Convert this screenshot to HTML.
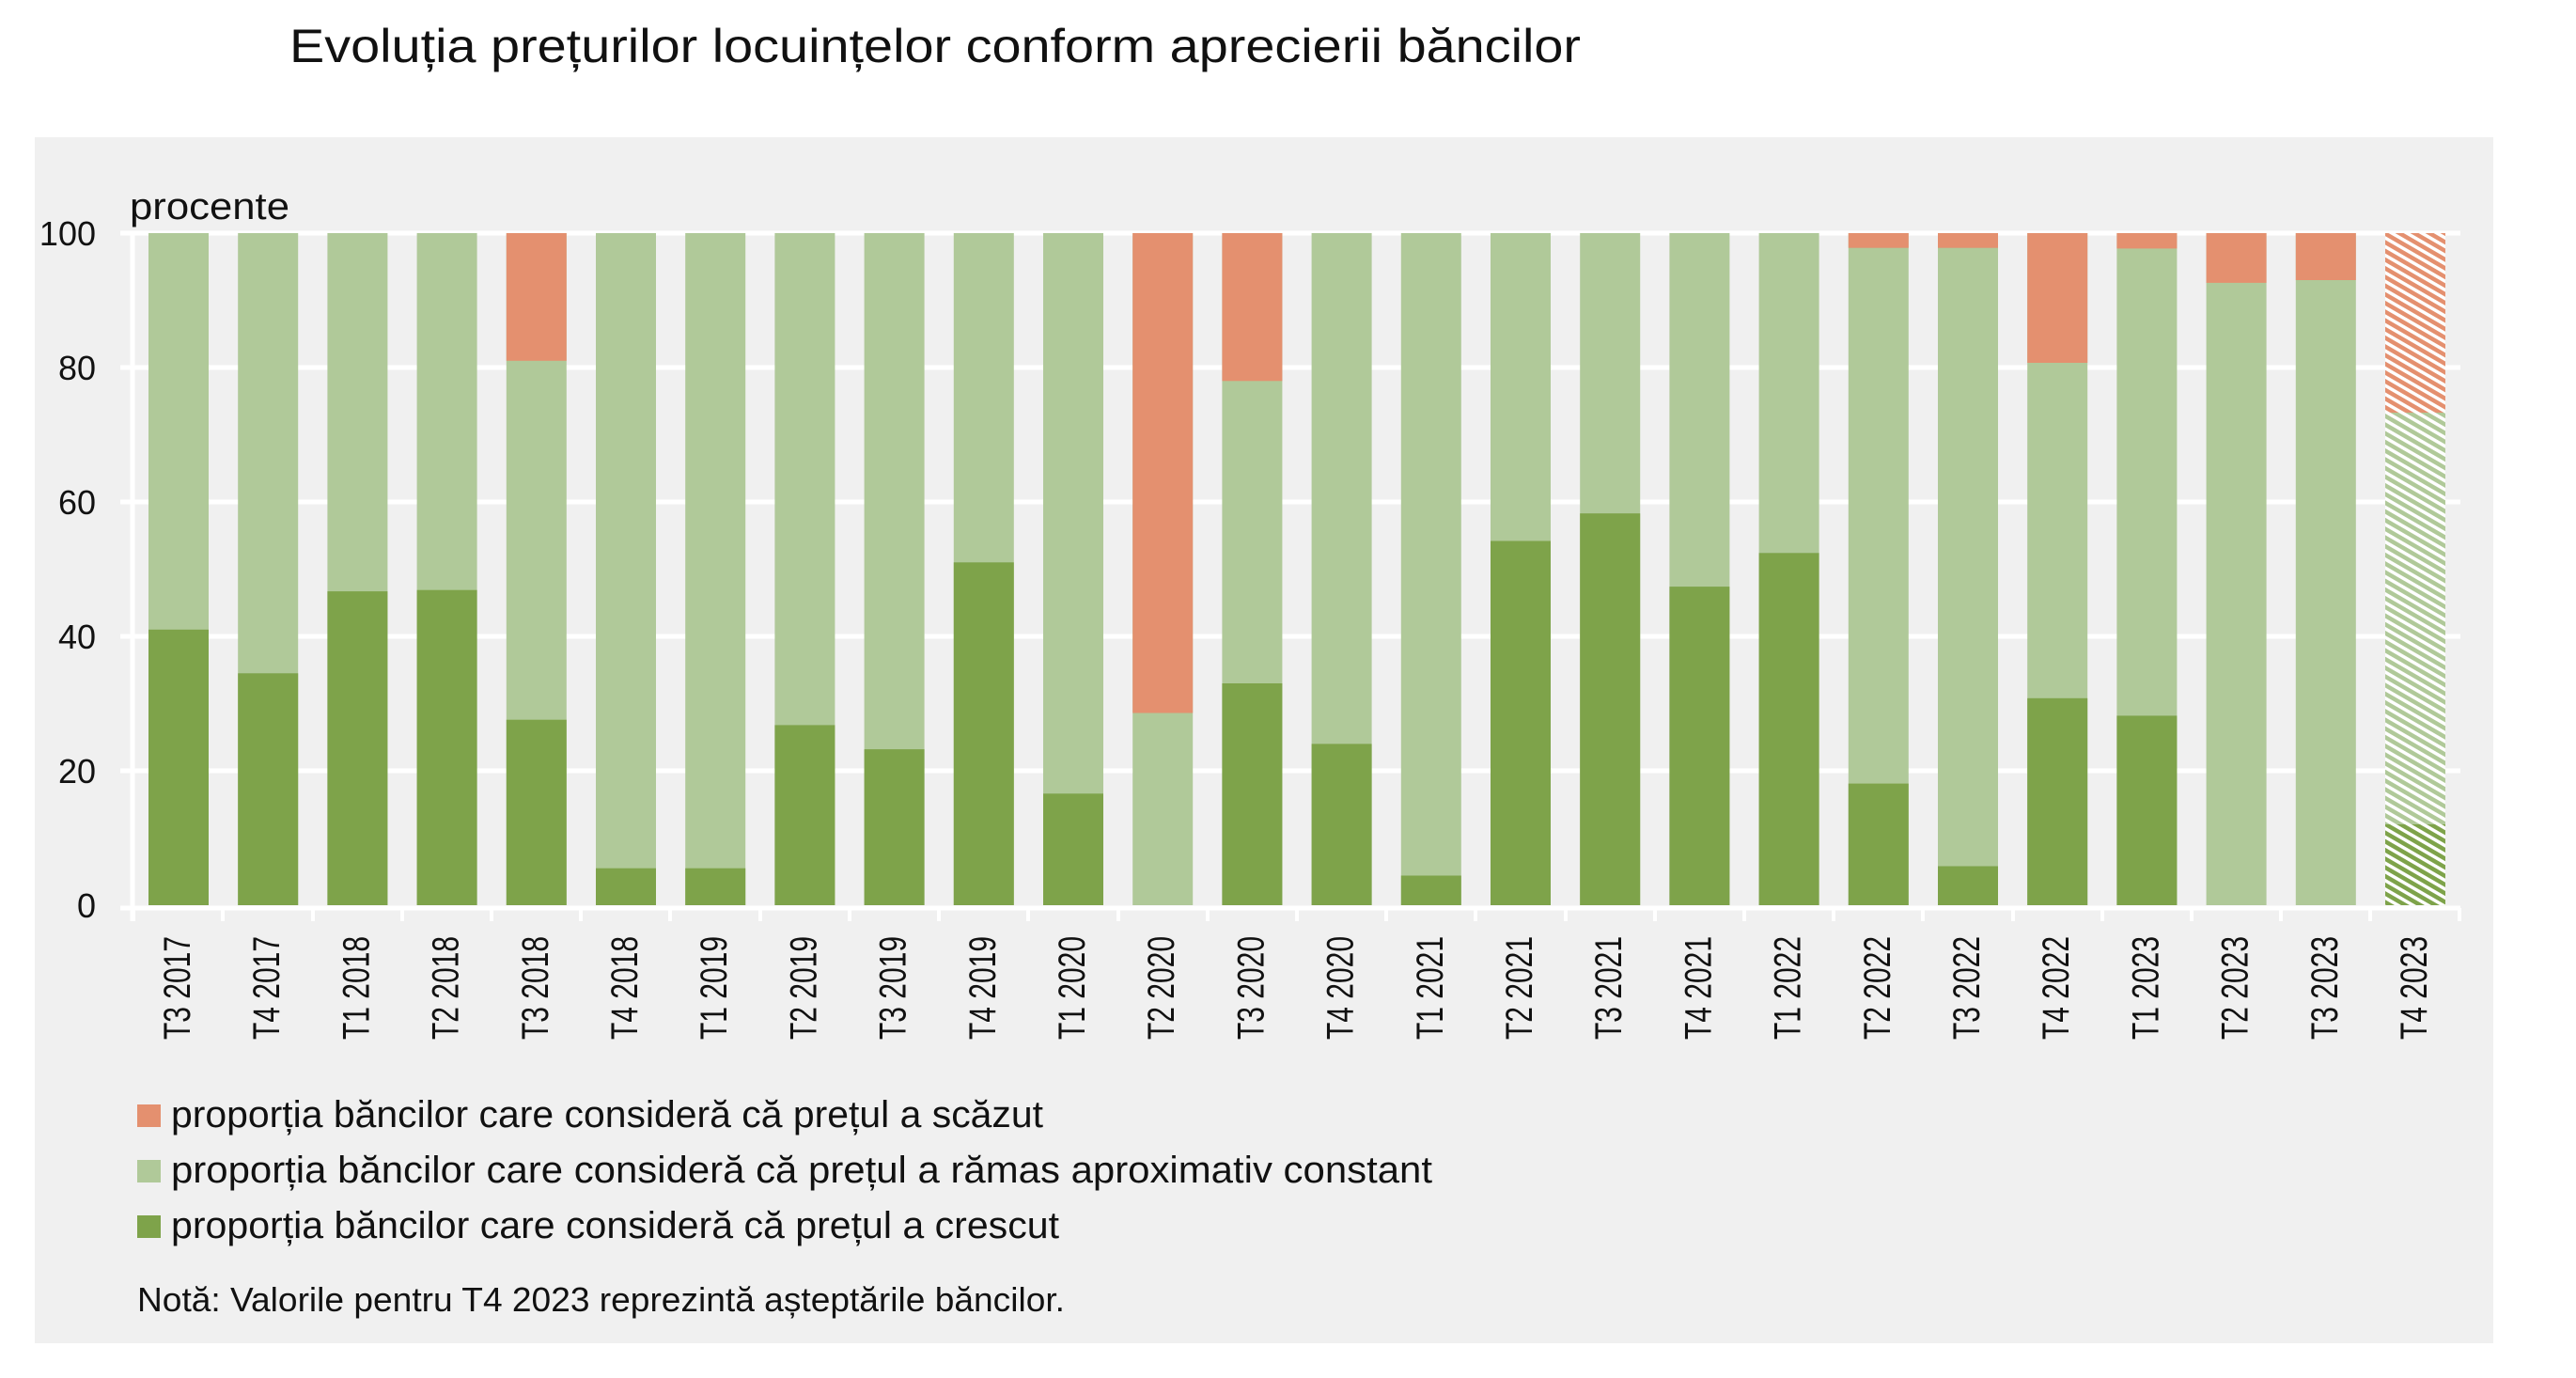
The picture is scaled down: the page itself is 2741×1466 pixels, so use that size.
<!DOCTYPE html>
<html><head><meta charset="utf-8"><style>
html,body{margin:0;padding:0;background:#fff;}
svg{display:block;}
text{font-family:"Liberation Sans",sans-serif;fill:#111;}
</style></head><body>
<svg width="2741" height="1466" viewBox="0 0 2741 1466" xmlns="http://www.w3.org/2000/svg">
<defs>
<pattern id="hr" width="8" height="8" patternUnits="userSpaceOnUse" patternTransform="rotate(30)"><rect width="8" height="8" fill="#fff"/><rect width="8" height="4.5" fill="#e4906f"/></pattern>
<pattern id="hl" width="8" height="8" patternUnits="userSpaceOnUse" patternTransform="rotate(30)"><rect width="8" height="8" fill="#fff"/><rect width="8" height="4.5" fill="#b0c999"/></pattern>
<pattern id="hd" width="8" height="8" patternUnits="userSpaceOnUse" patternTransform="rotate(30)"><rect width="8" height="8" fill="#fff"/><rect width="8" height="4.5" fill="#7ea34a"/></pattern>
</defs>
<rect width="2741" height="1466" fill="#fff"/>
<text x="308" y="66" font-size="50" textLength="1374" lengthAdjust="spacingAndGlyphs">Evoluția prețurilor locuințelor conform aprecierii băncilor</text>
<rect x="37" y="146" width="2616" height="1283" fill="#f0f0f0"/>
<text x="138" y="233" font-size="40" fill="#333" textLength="170" lengthAdjust="spacingAndGlyphs">procente</text>
<g stroke="#fff" stroke-width="5">
<line x1="128" y1="248" x2="2618" y2="248"/><line x1="128" y1="391" x2="2618" y2="391"/><line x1="128" y1="534" x2="2618" y2="534"/><line x1="128" y1="677" x2="2618" y2="677"/><line x1="128" y1="820" x2="2618" y2="820"/><line x1="128" y1="966" x2="2618" y2="966"/>
<line x1="141" y1="248" x2="141" y2="980"/>
</g>
<g stroke="#fff" stroke-width="4">
<line x1="142" y1="966" x2="142" y2="980"/><line x1="237" y1="966" x2="237" y2="980"/><line x1="333" y1="966" x2="333" y2="980"/><line x1="428" y1="966" x2="428" y2="980"/><line x1="523" y1="966" x2="523" y2="980"/><line x1="618" y1="966" x2="618" y2="980"/><line x1="713" y1="966" x2="713" y2="980"/><line x1="809" y1="966" x2="809" y2="980"/><line x1="904" y1="966" x2="904" y2="980"/><line x1="999" y1="966" x2="999" y2="980"/><line x1="1094" y1="966" x2="1094" y2="980"/><line x1="1190" y1="966" x2="1190" y2="980"/><line x1="1285" y1="966" x2="1285" y2="980"/><line x1="1380" y1="966" x2="1380" y2="980"/><line x1="1475" y1="966" x2="1475" y2="980"/><line x1="1570" y1="966" x2="1570" y2="980"/><line x1="1666" y1="966" x2="1666" y2="980"/><line x1="1761" y1="966" x2="1761" y2="980"/><line x1="1856" y1="966" x2="1856" y2="980"/><line x1="1951" y1="966" x2="1951" y2="980"/><line x1="2046" y1="966" x2="2046" y2="980"/><line x1="2142" y1="966" x2="2142" y2="980"/><line x1="2237" y1="966" x2="2237" y2="980"/><line x1="2332" y1="966" x2="2332" y2="980"/><line x1="2427" y1="966" x2="2427" y2="980"/><line x1="2522" y1="966" x2="2522" y2="980"/><line x1="2617" y1="966" x2="2617" y2="980"/>
</g>
<g font-size="36" text-anchor="end">
<text x="102" y="261">100</text><text x="102" y="404">80</text><text x="102" y="547">60</text><text x="102" y="690">40</text><text x="102" y="833">20</text><text x="102" y="976">0</text>
</g>
<g fill="#b0c999">
<rect x="158" y="248" width="64" height="715"/><rect x="253.2" y="248" width="64" height="715"/><rect x="348.4" y="248" width="64" height="715"/><rect x="443.6" y="248" width="64" height="715"/><rect x="538.8" y="248" width="64" height="715"/><rect x="634" y="248" width="64" height="715"/><rect x="729.2" y="248" width="64" height="715"/><rect x="824.4" y="248" width="64" height="715"/><rect x="919.6" y="248" width="64" height="715"/><rect x="1014.8" y="248" width="64" height="715"/><rect x="1110" y="248" width="64" height="715"/><rect x="1205.2" y="248" width="64" height="715"/><rect x="1300.4" y="248" width="64" height="715"/><rect x="1395.6" y="248" width="64" height="715"/><rect x="1490.8" y="248" width="64" height="715"/><rect x="1586" y="248" width="64" height="715"/><rect x="1681.2" y="248" width="64" height="715"/><rect x="1776.4" y="248" width="64" height="715"/><rect x="1871.6" y="248" width="64" height="715"/><rect x="1966.8" y="248" width="64" height="715"/><rect x="2062" y="248" width="64" height="715"/><rect x="2157.2" y="248" width="64" height="715"/><rect x="2252.4" y="248" width="64" height="715"/><rect x="2347.6" y="248" width="64" height="715"/><rect x="2442.8" y="248" width="64" height="715"/>
</g>
<g fill="#e4906f">
<rect x="538.8" y="248" width="64" height="135.8"/><rect x="1205.2" y="248" width="64" height="510.5"/><rect x="1300.4" y="248" width="64" height="157.3"/><rect x="1966.8" y="248" width="64" height="15.7"/><rect x="2062" y="248" width="64" height="15.7"/><rect x="2157.2" y="248" width="64" height="138"/><rect x="2252.4" y="248" width="64" height="16.4"/><rect x="2347.6" y="248" width="64" height="52.9"/><rect x="2442.8" y="248" width="64" height="50"/>
</g>
<g fill="#7ea34a">
<rect x="158" y="669.8" width="64" height="293.2"/><rect x="253.2" y="716.3" width="64" height="246.7"/><rect x="348.4" y="629.1" width="64" height="333.9"/><rect x="443.6" y="627.7" width="64" height="335.3"/><rect x="538.8" y="765.7" width="64" height="197.3"/><rect x="634" y="923.7" width="64" height="39.3"/><rect x="729.2" y="923.7" width="64" height="39.3"/><rect x="824.4" y="771.4" width="64" height="191.6"/><rect x="919.6" y="797.1" width="64" height="165.9"/><rect x="1014.8" y="598.3" width="64" height="364.7"/><rect x="1110" y="844.3" width="64" height="118.7"/><rect x="1300.4" y="727" width="64" height="236"/><rect x="1395.6" y="791.4" width="64" height="171.6"/><rect x="1490.8" y="931.5" width="64" height="31.5"/><rect x="1586" y="575.5" width="64" height="387.5"/><rect x="1681.2" y="546.2" width="64" height="416.8"/><rect x="1776.4" y="624.1" width="64" height="338.9"/><rect x="1871.6" y="588.3" width="64" height="374.7"/><rect x="1966.8" y="833.6" width="64" height="129.4"/><rect x="2062" y="921.5" width="64" height="41.5"/><rect x="2157.2" y="742.8" width="64" height="220.2"/><rect x="2252.4" y="761.4" width="64" height="201.6"/>
</g>
<rect x="2538" y="248" width="64" height="191" fill="url(#hr)"/>
<rect x="2538" y="439" width="64" height="438" fill="url(#hl)"/>
<rect x="2538" y="877" width="64" height="86" fill="url(#hd)"/>
<g font-size="40">
<text transform="translate(202 1106) rotate(-90)" textLength="110" lengthAdjust="spacingAndGlyphs">T3 2017</text>
<text transform="translate(297.2 1106) rotate(-90)" textLength="110" lengthAdjust="spacingAndGlyphs">T4 2017</text>
<text transform="translate(392.4 1106) rotate(-90)" textLength="110" lengthAdjust="spacingAndGlyphs">T1 2018</text>
<text transform="translate(487.6 1106) rotate(-90)" textLength="110" lengthAdjust="spacingAndGlyphs">T2 2018</text>
<text transform="translate(582.8 1106) rotate(-90)" textLength="110" lengthAdjust="spacingAndGlyphs">T3 2018</text>
<text transform="translate(678 1106) rotate(-90)" textLength="110" lengthAdjust="spacingAndGlyphs">T4 2018</text>
<text transform="translate(773.2 1106) rotate(-90)" textLength="110" lengthAdjust="spacingAndGlyphs">T1 2019</text>
<text transform="translate(868.4 1106) rotate(-90)" textLength="110" lengthAdjust="spacingAndGlyphs">T2 2019</text>
<text transform="translate(963.6 1106) rotate(-90)" textLength="110" lengthAdjust="spacingAndGlyphs">T3 2019</text>
<text transform="translate(1058.8 1106) rotate(-90)" textLength="110" lengthAdjust="spacingAndGlyphs">T4 2019</text>
<text transform="translate(1154 1106) rotate(-90)" textLength="110" lengthAdjust="spacingAndGlyphs">T1 2020</text>
<text transform="translate(1249.2 1106) rotate(-90)" textLength="110" lengthAdjust="spacingAndGlyphs">T2 2020</text>
<text transform="translate(1344.4 1106) rotate(-90)" textLength="110" lengthAdjust="spacingAndGlyphs">T3 2020</text>
<text transform="translate(1439.6 1106) rotate(-90)" textLength="110" lengthAdjust="spacingAndGlyphs">T4 2020</text>
<text transform="translate(1534.8 1106) rotate(-90)" textLength="110" lengthAdjust="spacingAndGlyphs">T1 2021</text>
<text transform="translate(1630 1106) rotate(-90)" textLength="110" lengthAdjust="spacingAndGlyphs">T2 2021</text>
<text transform="translate(1725.2 1106) rotate(-90)" textLength="110" lengthAdjust="spacingAndGlyphs">T3 2021</text>
<text transform="translate(1820.4 1106) rotate(-90)" textLength="110" lengthAdjust="spacingAndGlyphs">T4 2021</text>
<text transform="translate(1915.6 1106) rotate(-90)" textLength="110" lengthAdjust="spacingAndGlyphs">T1 2022</text>
<text transform="translate(2010.8 1106) rotate(-90)" textLength="110" lengthAdjust="spacingAndGlyphs">T2 2022</text>
<text transform="translate(2106 1106) rotate(-90)" textLength="110" lengthAdjust="spacingAndGlyphs">T3 2022</text>
<text transform="translate(2201.2 1106) rotate(-90)" textLength="110" lengthAdjust="spacingAndGlyphs">T4 2022</text>
<text transform="translate(2296.4 1106) rotate(-90)" textLength="110" lengthAdjust="spacingAndGlyphs">T1 2023</text>
<text transform="translate(2391.6 1106) rotate(-90)" textLength="110" lengthAdjust="spacingAndGlyphs">T2 2023</text>
<text transform="translate(2486.8 1106) rotate(-90)" textLength="110" lengthAdjust="spacingAndGlyphs">T3 2023</text>
<text transform="translate(2582 1106) rotate(-90)" textLength="110" lengthAdjust="spacingAndGlyphs">T4 2023</text>
</g>
<rect x="146" y="1175" width="25" height="24" fill="#e4906f"/>
<rect x="146" y="1234" width="25" height="24" fill="#b0c999"/>
<rect x="146" y="1293" width="25" height="24" fill="#7ea34a"/>
<g font-size="40" fill="#222">
<text x="182" y="1199" textLength="928" lengthAdjust="spacingAndGlyphs">proporția băncilor care consideră că prețul a scăzut</text>
<text x="182" y="1258" textLength="1342" lengthAdjust="spacingAndGlyphs">proporția băncilor care consideră că prețul a rămas aproximativ constant</text>
<text x="182" y="1317" textLength="945" lengthAdjust="spacingAndGlyphs">proporția băncilor care consideră că prețul a crescut</text>
</g>
<text x="146" y="1395" font-size="36" fill="#333" textLength="987" lengthAdjust="spacingAndGlyphs">Notă: Valorile pentru T4 2023 reprezintă așteptările băncilor.</text>
</svg>
</body></html>
